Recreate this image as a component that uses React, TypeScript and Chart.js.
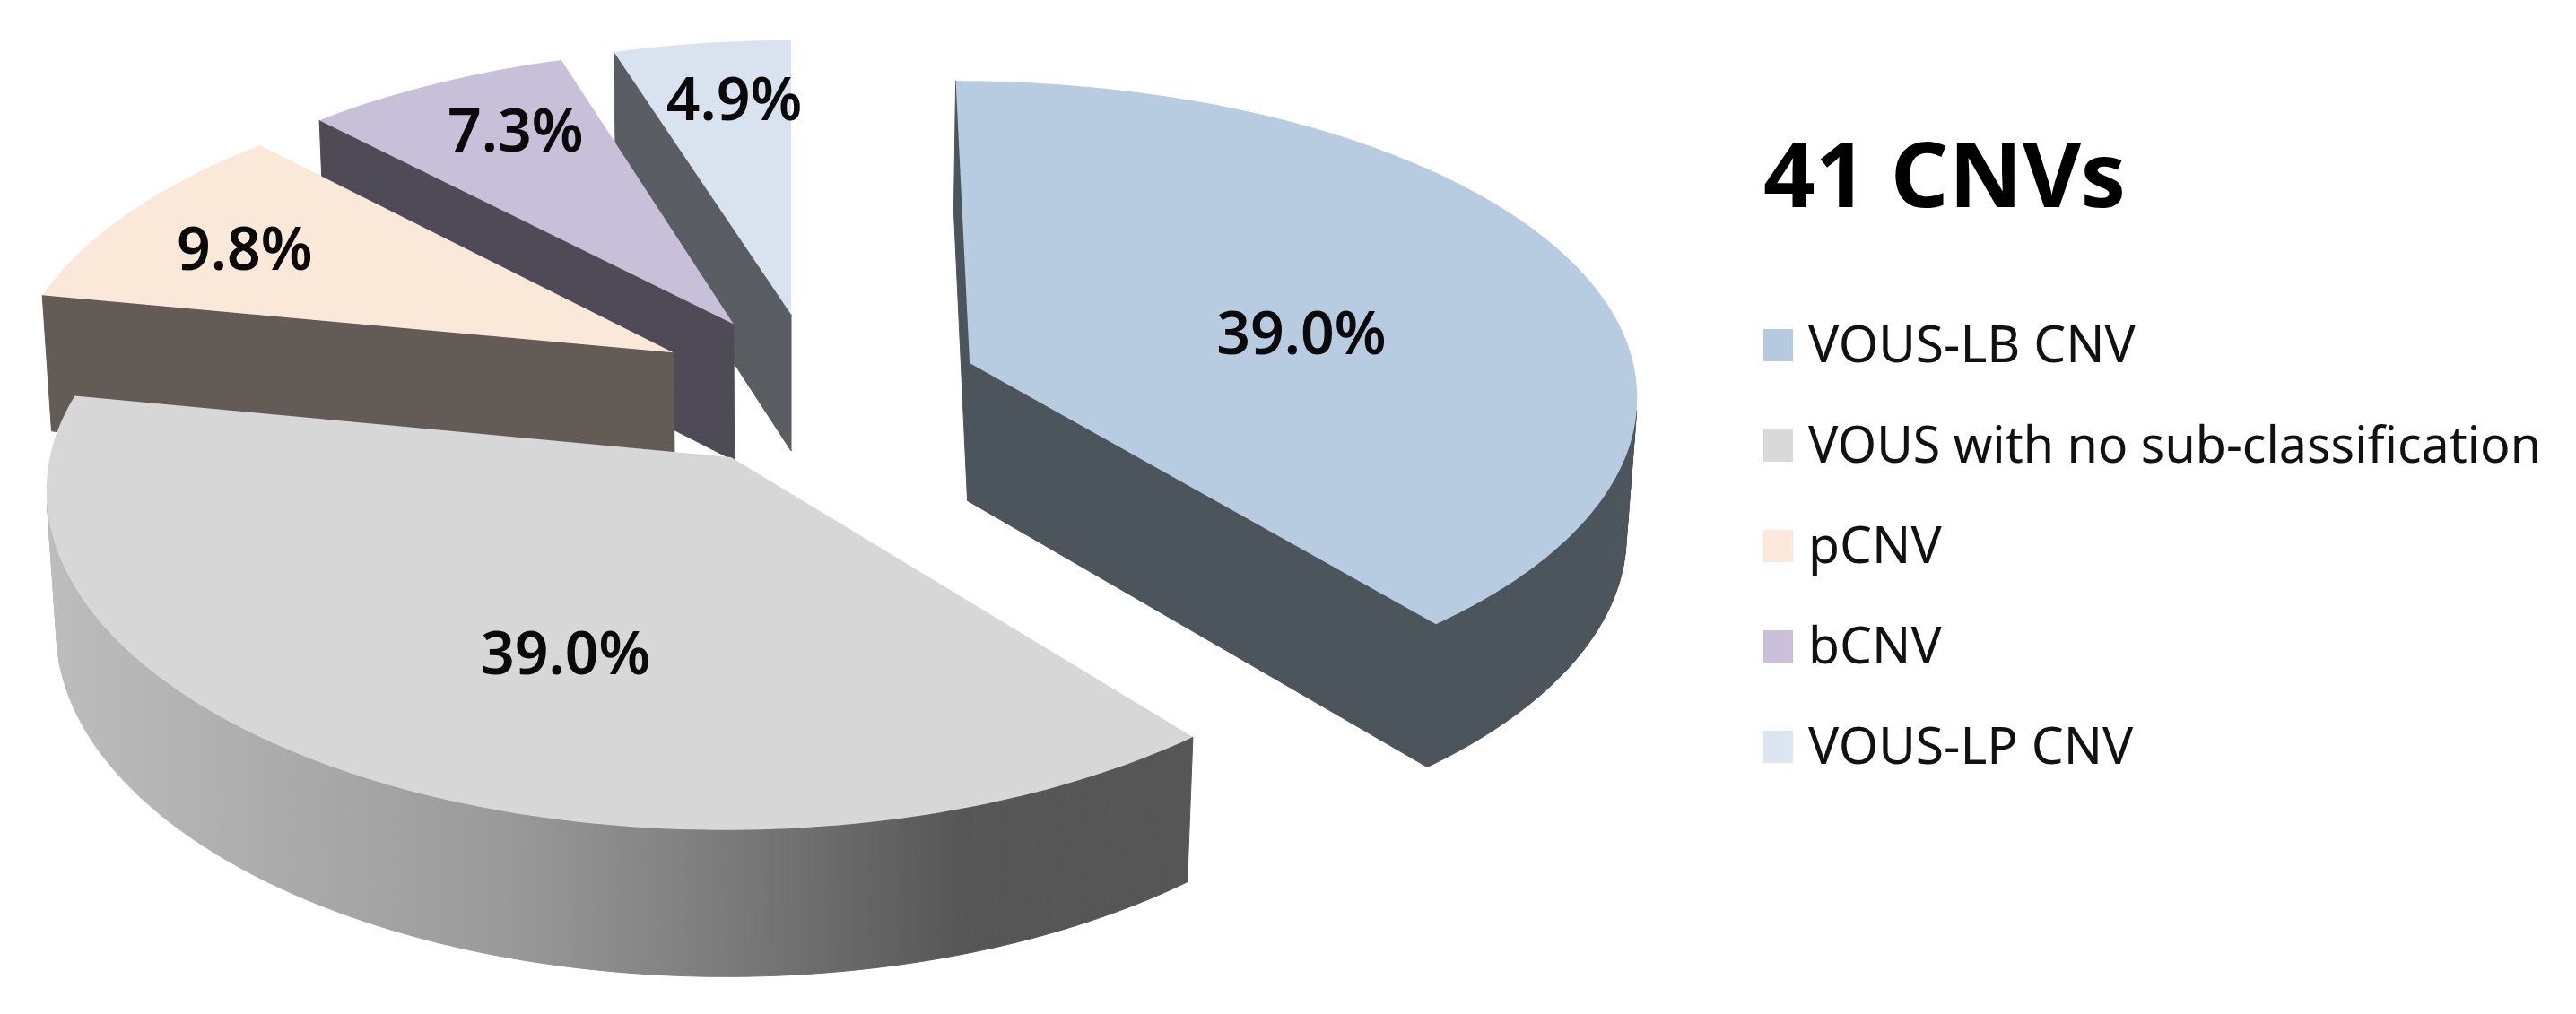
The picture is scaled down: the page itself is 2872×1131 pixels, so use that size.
import React, { useEffect, useRef } from "react";
import { Chart, registerables } from "chart.js";

Chart.register(...registerables);

const CATEGORIES = ["VOUS-LB CNV", "VOUS with no sub-classification", "pCNV", "bCNV", "VOUS-LP CNV"];
const COUNTS = [16, 16, 4, 3, 2];
const TOTAL_LABEL = "41 CNVs";
const TOP_COLORS = ["#B7CBE1", "#D7D7D7", "#FAE8D9", "#C8BFD8", "#D9E3F0"];
const KEY_COLORS = ["#B5CAE1", "#D9D9D9", "#FBE8DA", "#CBC0DA", "#DCE6F2"];
const SIDE_COLORS = ["#4C545C", "#5A5A5A", "#635B55", "#4F4B56", "#5A5E62"];
const PAINT_ORDER = [4, 3, 2, 0, 1];
const LABEL_RADIUS = [0.515, 0.6, 0.766, 0.772, 0.772];
const LABEL_ANGLE_SHIFT = [9, -8.6, -1.6, 2.4, 1.7];

const VIEW = { R: 745, kBackLeft: 0.115, kBackRight: 0.085, kFront: 0.09, kY: 0.08, by: 0.47, vx: 882, cx: 28, cy: 434, h: 156, d: 0.013, bulgeFront: 2.7e-5, bulgeBack: 8e-6 };
const KEY = { x: 1966, textX: 2016, firstY: 385, step: 112, w: 33, h: 36, font: 57, maxText: 817 };

const project = (X: number, Y: number, bottom: boolean) => {
  const extra = bottom ? VIEW.d : 0;
  const px = X + VIEW.cx;
  const kx = Y < 0 ? (px < 0 ? VIEW.kBackLeft : VIEW.kBackRight) : VIEW.kFront;
  const wx = 1 - (kx * Y) / VIEW.R + extra;
  const wy = 1 - (VIEW.kY * Y) / VIEW.R + extra;
  const bulge = Y * Y * (Y < 0 ? VIEW.bulgeBack : VIEW.bulgeFront);
  return {
    x: VIEW.vx + px / wx,
    y: VIEW.cy + (VIEW.by * Y + (bottom ? VIEW.h : 0)) / wy + bulge,
  };
};

const pie3d = {
  id: "pie3d",
  beforeDatasetDraw(chart: any) {
    const ctx = chart.ctx;
    const arcs = chart.getDatasetMeta(0).data;
    const grad = ctx.createLinearGradient(50, 0, 1330, 0);
    grad.addColorStop(0, "#BDBDBD");
    grad.addColorStop(0.4, "#9A9A9A");
    grad.addColorStop(0.6, "#7A7A7A");
    grad.addColorStop(0.8, "#565656");
    grad.addColorStop(1, "#565656");
    for (const i of PAINT_ORDER) {
      const arc = arcs[i];
      const { startAngle, endAngle, outerRadius } = arc.getProps(["startAngle", "endAngle", "outerRadius"], true);
      const mid = (startAngle + endAngle) / 2;
      const e = ((arc.options.offset / 4) / outerRadius) * VIEW.R;
      const ax = Math.cos(mid) * e;
      const ay = Math.sin(mid) * e;
      const plane: [number, number][] = [[ax, ay]];
      const n = Math.ceil(((endAngle - startAngle) * 180) / Math.PI);
      for (let s = 0; s <= n; s++) {
        const t = startAngle + ((endAngle - startAngle) * s) / n;
        plane.push([ax + Math.cos(t) * VIEW.R, ay + Math.sin(t) * VIEW.R]);
      }
      const top = plane.map((p) => project(p[0], p[1], false));
      const bot = plane.map((p) => project(p[0], p[1], true));
      const side = i === 1 ? grad : SIDE_COLORS[i];
      ctx.save();
      ctx.fillStyle = side;
      ctx.strokeStyle = side;
      ctx.lineWidth = 1;
      for (let s = 0; s < top.length; s++) {
        const u = (s + 1) % top.length;
        const q = [top[s], top[u], bot[u], bot[s]];
        let area = 0;
        for (let c = 0; c < 4; c++) {
          const a = q[c];
          const b = q[(c + 1) % 4];
          area += a.x * b.y - b.x * a.y;
        }
        if (area >= 0) continue;
        ctx.beginPath();
        q.forEach((p, c) => (c ? ctx.lineTo(p.x, p.y) : ctx.moveTo(p.x, p.y)));
        ctx.closePath();
        ctx.fill();
        ctx.stroke();
      }
      ctx.fillStyle = TOP_COLORS[i];
      ctx.beginPath();
      top.forEach((p, c) => (c ? ctx.lineTo(p.x, p.y) : ctx.moveTo(p.x, p.y)));
      ctx.closePath();
      ctx.fill();
      ctx.restore();
    }
    return false;
  },
  afterDatasetsDraw(chart: any) {
    const ctx = chart.ctx;
    const arcs = chart.getDatasetMeta(0).data;
    const sum = COUNTS.reduce((a, b) => a + b, 0);
    ctx.save();
    ctx.fillStyle = "#0A0A0A";
    ctx.textAlign = "center";
    ctx.textBaseline = "middle";
    ctx.font = "600 66px 'Noto Sans'";
    arcs.forEach((arc: any, i: number) => {
      const { startAngle, endAngle, outerRadius } = arc.getProps(["startAngle", "endAngle", "outerRadius"], true);
      const mid = (startAngle + endAngle) / 2;
      const e = ((arc.options.offset / 4) / outerRadius) * VIEW.R;
      const t = mid + (LABEL_ANGLE_SHIFT[i] * Math.PI) / 180;
      const r = LABEL_RADIUS[i] * VIEW.R;
      const p = project(Math.cos(mid) * e + Math.cos(t) * r, Math.sin(mid) * e + Math.sin(t) * r, false);
      ctx.fillText(((COUNTS[i] / sum) * 100).toFixed(1) + "%", p.x, p.y + 4);
    });
    ctx.textAlign = "left";
    ctx.textBaseline = "alphabetic";
    ctx.fillStyle = "#000000";
    ctx.font = "bold 101px 'Noto Sans'";
    ctx.fillText(TOTAL_LABEL, KEY.x, 231);
    ctx.font = `${KEY.font}px 'Noto Sans'`;
    ctx.textBaseline = "middle";
    CATEGORIES.forEach((label, i) => {
      const y = KEY.firstY + KEY.step * i;
      ctx.fillStyle = KEY_COLORS[i];
      ctx.fillRect(KEY.x, y - KEY.h / 2, KEY.w, KEY.h);
      ctx.fillStyle = "#111111";
      ctx.fillText(label, KEY.textX, y + 3, KEY.maxText);
    });
    ctx.restore();
  },
};

export default function App() {
  const ref = useRef<HTMLCanvasElement>(null);
  useEffect(() => {
    const chart = new Chart(ref.current!, {
      type: "pie",
      data: {
        labels: CATEGORIES,
        datasets: [{ data: COUNTS, backgroundColor: TOP_COLORS, borderWidth: 0, offset: 373 }],
      },
      options: {
        animation: false,
        responsive: false,
        layout: { padding: 0 },
        plugins: { legend: { display: false }, tooltip: { enabled: false } },
      },
      plugins: [pie3d],
    } as any);
    return () => chart.destroy();
  }, []);
  return (
    <canvas
      ref={ref}
      width={2872}
      height={1131}
      style={{ position: "absolute", left: 0, top: 0, width: 2872, height: 1131, background: "#fff" }}
    />
  );
}
